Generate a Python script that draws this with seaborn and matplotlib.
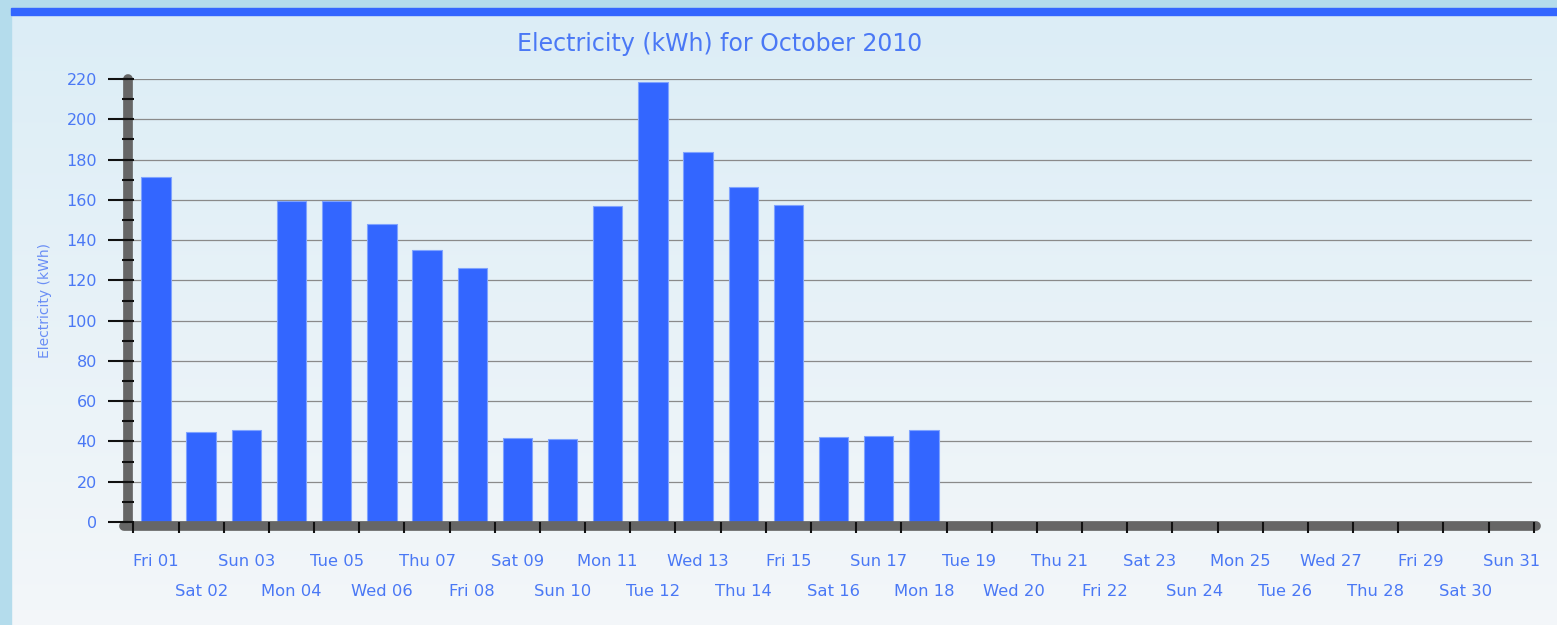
import numpy as np
import pandas as pd
import seaborn as sns
import matplotlib.pyplot as plt
import matplotlib.transforms as mtransforms
from matplotlib.patches import Rectangle
from matplotlib.ticker import MultipleLocator

# daily electricity use, October 2010 (only first 18 days recorded)
days = ['Fri 01', 'Sat 02', 'Sun 03', 'Mon 04', 'Tue 05', 'Wed 06', 'Thu 07', 'Fri 08',
        'Sat 09', 'Sun 10', 'Mon 11', 'Tue 12', 'Wed 13', 'Thu 14', 'Fri 15', 'Sat 16',
        'Sun 17', 'Mon 18', 'Tue 19', 'Wed 20', 'Thu 21', 'Fri 22', 'Sat 23', 'Sun 24',
        'Mon 25', 'Tue 26', 'Wed 27', 'Thu 28', 'Fri 29', 'Sat 30', 'Sun 31']
kwh = [171.3, 44.7, 45.7, 159.4, 159.4, 148.0, 135.0, 126.1, 41.7, 41.2,
       156.9, 218.5, 183.7, 166.3, 157.4, 42.2, 42.7, 45.7]
yticks = list(range(0, 221, 20))

df = pd.DataFrame({'day': days[:len(kwh)], 'kwh': kwh})

blue_txt = '#4a78f5'
bar_col = '#3366ff'
axis_col = '#666666'

sns.set_style('white')
plt.rcParams['font.family'] = ['DejaVu Sans']

fig = plt.figure(figsize=(15.57, 6.25), dpi=100)

# background panel with a soft vertical gradient
bg = fig.add_axes([0, 0, 1, 1], zorder=-10)
grad = np.linspace(0, 1, 256).reshape(-1, 1)
top = np.array([0.86, 0.93, 0.965])
bot = np.array([0.955, 0.967, 0.978])
img = top + (bot - top) * grad[:, :, None]
bg.imshow(img, aspect='auto', extent=[0, 1, 0, 1], origin='upper')
bg.add_patch(Rectangle((0, 0), 11 / 1557, 1, color='#b4dcec'))
bg.add_patch(Rectangle((0, 1 - 8 / 625), 1, 8 / 625, color='#b4dcec'))
bg.add_patch(Rectangle((11 / 1557, 1 - 15 / 625), 1, 7 / 625, color='#3366ff'))
bg.set_xlim(0, 1)
bg.set_ylim(0, 1)
bg.axis('off')

ax = fig.add_axes([128 / 1557, (625 - 522) / 625, 1408 / 1557, 443 / 625])
ax.patch.set_alpha(0)

sns.barplot(data=df, x='day', y='kwh', order=days, color=bar_col, width=0.65,
            saturation=1, edgecolor='#7fa3ff', linewidth=0.8, errorbar=None, ax=ax)

ax.set_xlim(-0.62, 30.55)
ax.set_ylim(0, 220)
ax.set_axisbelow(False)
for s in ax.spines.values():
    s.set_visible(False)

# horizontal grid lines
for y in yticks:
    ax.plot([-0.62, 30.45], [y, y], color='#8a8a8a', lw=0.9, zorder=0)

# thick axis bars (tick marks are drawn on top of them)
ax.plot([-0.62, -0.62], [0, 220], color=axis_col, lw=7, solid_capstyle='round',
        clip_on=False, zorder=2)
ax.plot([-0.7, 30.55], [-2.2, -2.2], color=axis_col, lw=7, solid_capstyle='round',
        clip_on=False, zorder=2)

# y ticks: long outward marks every 20, short marks across the bar every 10
ax.set_yticks(yticks)
ax.yaxis.set_minor_locator(MultipleLocator(10))
ax.yaxis.remove_overlapping_locs = False
ax.tick_params(axis='y', which='major', direction='out', length=14.4, width=1.5,
               color='#111111', labelsize=11.5, labelcolor=blue_txt, pad=8, left=True)
ax.tick_params(axis='y', which='minor', direction='inout', length=8, width=1.5,
               color='#111111', left=True)

# x tick marks at day boundaries
ax.set_xticks(np.arange(len(days) + 1) - 0.5)
ax.set_xticklabels([])
ax.tick_params(axis='x', which='major', direction='out', length=8, width=1.5,
               color='#111111', bottom=True)

# day labels in two staggered rows
trans = mtransforms.blended_transform_factory(ax.transData, fig.transFigure)
for i, d in enumerate(days):
    y_px = 562 if i % 2 == 0 else 592
    ax.text(i, 1 - y_px / 625, d, transform=trans, ha='center', va='center',
            fontsize=11.8, color=blue_txt)

ax.set_xlabel('')
ax.set_ylabel('Electricity (kWh)', color='#6a8ef5', fontsize=10, labelpad=10)

fig.text(720 / 1557, 1 - 44 / 625, 'Electricity (kWh) for October 2010',
         ha='center', va='center', fontsize=17, color=blue_txt)

fig.savefig('out.png', dpi=100)
plt.close(fig)
